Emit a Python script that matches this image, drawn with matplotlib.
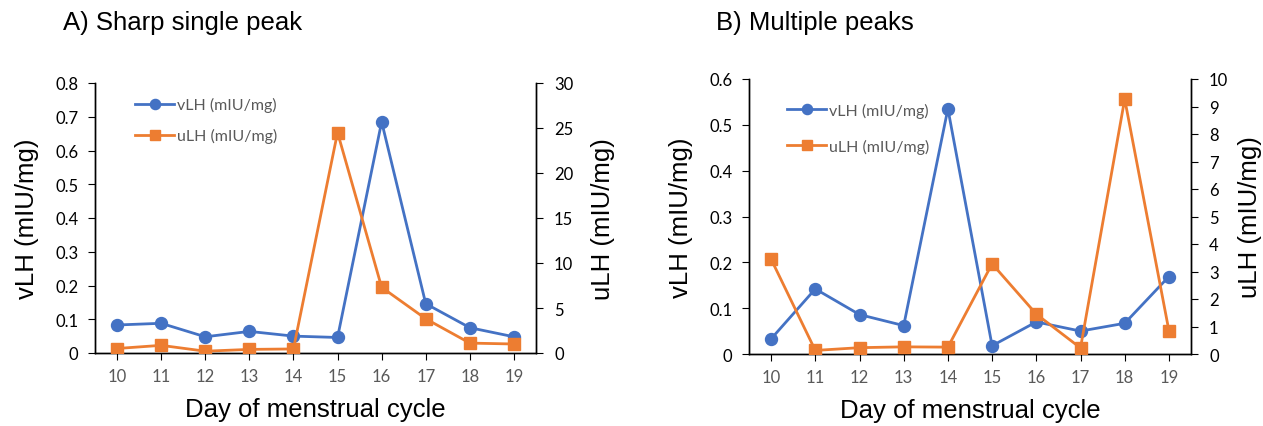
import matplotlib
matplotlib.use("Agg")
import matplotlib.pyplot as plt
from matplotlib import font_manager

days = [10, 11, 12, 13, 14, 15, 16, 17, 18, 19]

# Panel A: Sharp single peak
a_vlh = [0.083, 0.088, 0.048, 0.064, 0.050, 0.046, 0.685, 0.146, 0.075, 0.048]
a_ulh = [0.5, 0.85, 0.2, 0.4, 0.45, 24.5, 7.3, 3.8, 1.1, 1.0]

# Panel B: Multiple peaks
b_vlh = [0.033, 0.142, 0.086, 0.062, 0.535, 0.018, 0.070, 0.050, 0.067, 0.169]
b_ulh = [3.45, 0.13, 0.23, 0.26, 0.25, 3.28, 1.45, 0.22, 9.27, 0.85]

titles = ["A) Sharp single peak", "B) Multiple peaks"]
left_ticks_a = [0, 0.1, 0.2, 0.3, 0.4, 0.5, 0.6, 0.7, 0.8]
right_ticks_a = [0, 5, 10, 15, 20, 25, 30]
left_ticks_b = [0, 0.1, 0.2, 0.3, 0.4, 0.5, 0.6]
right_ticks_b = list(range(0, 11))

BLUE = "#4472C4"
ORANGE = "#ED7D31"
GRAY = "#595959"

avail = {f.name for f in font_manager.fontManager.ttflist}
tick_font = "Lato" if "Lato" in avail else "DejaVu Sans"
label_font = "Liberation Sans"

fig = plt.figure(figsize=(12.63, 4.27), dpi=100)

panels = [
    dict(v=a_vlh, u=a_ulh, lt=left_ticks_a, rt=right_ticks_a,
         rect=[95 / 1263, 1 - 354 / 427, 441 / 1263, 270 / 427],
         title=titles[0], tx=63 / 1263, leg=(0.091, 0.948), ls=1.0,
         lpad=12, rpad=13),
    dict(v=b_vlh, u=b_ulh, lt=left_ticks_b, rt=right_ticks_b,
         rect=[749 / 1263, 1 - 355 / 427, 442 / 1263, 275 / 427],
         title=titles[1], tx=716 / 1263, leg=(0.086, 0.913), ls=1.3,
         lpad=12, rpad=7),
]

for p in panels:
    ax = fig.add_axes(p["rect"])
    ax2 = ax.twinx()
    l1, = ax.plot(days, p["v"], color=BLUE, lw=2.0, marker="o", ms=8.6,
                  label="vLH (mIU/mg)", zorder=3)
    l2, = ax2.plot(days, p["u"], color=ORANGE, lw=2.0, marker="s", ms=8.6,
                   label="uLH (mIU/mg)", zorder=3)
    lt, rt = p["lt"], p["rt"]
    ax.set_xlim(9.5, 19.5)
    ax.set_ylim(lt[0], lt[-1])
    ax2.set_ylim(rt[0], rt[-1])
    ax.set_xticks(days)
    ax.set_yticks(lt)
    ax.set_yticklabels([("%g" % v) for v in lt])
    ax2.set_yticks(rt)
    for a in (ax, ax2):
        a.spines["top"].set_visible(False)
        for s in a.spines.values():
            s.set_color("black")
            s.set_linewidth(1.0)
    ax.tick_params(axis="x", direction="out", length=5, colors="black",
                   labelcolor=GRAY, labelsize=12, pad=6)
    ax.tick_params(axis="y", direction="out", length=5, labelsize=12, pad=7)
    ax2.tick_params(axis="y", direction="out", length=5, labelsize=12, pad=8)
    for lab in ax.get_xticklabels() + ax.get_yticklabels() + ax2.get_yticklabels():
        lab.set_fontfamily(tick_font)
    ax.set_ylabel("vLH (mIU/mg)", fontsize=18.5, family=label_font, labelpad=p["lpad"])
    ax2.set_ylabel("uLH (mIU/mg)", fontsize=18.5, family=label_font, labelpad=p["rpad"])
    ax.set_xlabel("Day of menstrual cycle", fontsize=18.5, family=label_font, labelpad=9)
    leg = ax2.legend(handles=[l1, l2], loc="upper left", bbox_to_anchor=p["leg"],
                     frameon=False, labelspacing=p["ls"], handlelength=2.45,
                     handletextpad=0.15, borderpad=0, borderaxespad=0,
                     markerscale=0.85, prop={"family": tick_font, "size": 11.5})
    for t in leg.get_texts():
        t.set_color(GRAY)
    fig.text(p["tx"], 1 - 23 / 427, p["title"], fontsize=18.5, family=label_font,
             va="center", ha="left")

fig.savefig("out.png", dpi=100)
